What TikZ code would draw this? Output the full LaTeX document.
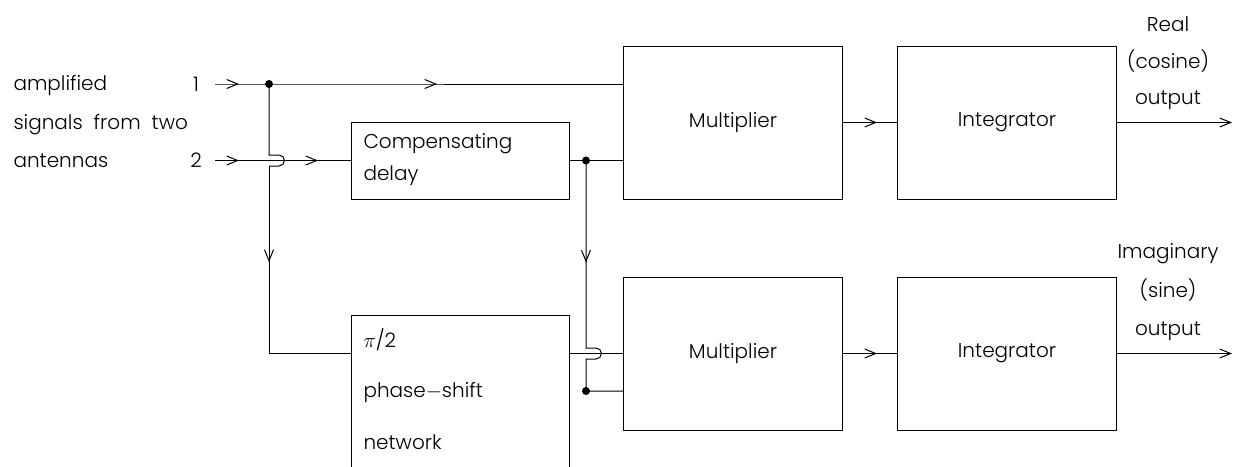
\documentclass[tikz,border=0pt]{standalone}
\usepackage{fontspec}
\setmainfont{Poppins}[UprightFont={* Light},WordSpace={2}]
\usetikzlibrary{arrows.meta,decorations.markings}
\begin{document}
\begin{tikzpicture}[x=1pt,y=-1pt,line width=1pt,
  font=\fontsize{20}{24}\selectfont,
  box/.style={draw,rectangle,inner sep=0pt,minimum width=219pt,minimum height=153pt},
  lbl/.style={inner sep=0pt,anchor=base west},
  ctr/.style={inner sep=0pt,anchor=base},
  dot/.style={circle,fill,inner sep=0pt,minimum size=8pt},
  tip/.style={-{Straight Barb[length=11pt,width=9pt]}},
  midtip/.style={postaction={decorate,decoration={markings,
      mark=at position #1 with {\arrow{Straight Barb[length=11pt,width=9pt]}}}}}]
\useasboundingbox (0,0) rectangle (1234,466);
\clip (0,0) rectangle (1234,466);

% processing blocks
\node[box] (mul1) at (733,122.5) {Multiplier};
\node[box] (int1) at (1007,122.5) {Integrator};
\node[box] (mul2) at (733,353.5) {Multiplier};
\node[box] (int2) at (1007,353.5) {Integrator};
\node[draw,rectangle,inner sep=0pt,minimum width=218pt,minimum height=77pt] (delay) at (460,160.5) {};
\node[draw,rectangle,inner sep=0pt,minimum width=218pt,minimum height=200pt] (phi) at (460,415) {};

% texts inside the delay and phase-shift blocks
\node[lbl] (dt1) at (363,148) {Compensating};
\node[lbl] (dt2) at (363,180) {delay};
\node[lbl] (pt1) at (363,347) {$\pi$/2};
\node[lbl] (pt2) at (363,397) {phase$-$shift};
\node[lbl] (pt3) at (363,449) {network};

% input labels
\node[lbl] (a1) at (13,90) {amplified};
\node[lbl] (a2) at (13,129) {signals from two};
\node[lbl] (a3) at (13,167) {antennas};
\node[ctr] (n1) at (196,91) {1};
\node[ctr] (n2) at (196,167) {2};

% output labels
\node[ctr] (r1) at (1168,31) {Real};
\node[ctr] (r2) at (1168,68) {(cosine)};
\node[ctr] (r3) at (1168,104) {output};
\node[ctr] (i1) at (1168,258) {Imaginary};
\node[ctr] (i2) at (1168,297) {(sine)};
\node[ctr] (i3) at (1168,335) {output};

% junctions and free ends
\coordinate (s1) at (215,84);
\coordinate (s2) at (215,160.5);
\coordinate (j1) at (269,84);
\coordinate (j2) at (586,160.5);
\coordinate (j3) at (586,391);
\coordinate (out1) at (1232,122.5);
\coordinate (out2) at (1232,353.5);
\path (phi.north west) ++(0,38.5) coordinate (pin);
\path (phi.north east) ++(0,38.5) coordinate (pout);

% signal 1 to the upper multiplier
\draw[midtip=24pt,midtip=222pt] (s1) -- (j1) -- (j1 -| mul1.west);
% signal 2 through the delay
\draw[midtip=24pt,midtip=103pt] (s2) -- (delay.west);
% signal 1 down to the phase-shift network, hopping over signal 2
\draw (j1) -- (269,155) -- (279,155) arc[start angle=90,end angle=-90,radius=5.5pt]
  -- (269,166) coordinate (ja);
\draw[midtip=96pt] (ja) |- (pin);
% delayed signal to both multipliers
\draw (delay.east) -- (j2) -- (j2 -| mul1.west);
\draw[midtip=102pt] (j2) -- (586,348) -- (596,348) arc[start angle=90,end angle=-90,radius=5.5pt]
  -- (586,359) -- (j3) -- (j3 -| mul2.west);
% phase-shifted signal to the lower multiplier
\draw (pout) -- (pout -| mul2.west);
% multipliers to integrators and outputs
\draw[midtip=34pt] (mul1) -- (int1);
\draw[midtip=34pt] (mul2) -- (int2);
\draw[tip] (int1) -- (out1);
\draw[tip] (int2) -- (out2);

\node[dot] (d1) at (j1) {};
\node[dot] (d2) at (j2) {};
\node[dot] (d3) at (j3) {};
\end{tikzpicture}
\end{document}
